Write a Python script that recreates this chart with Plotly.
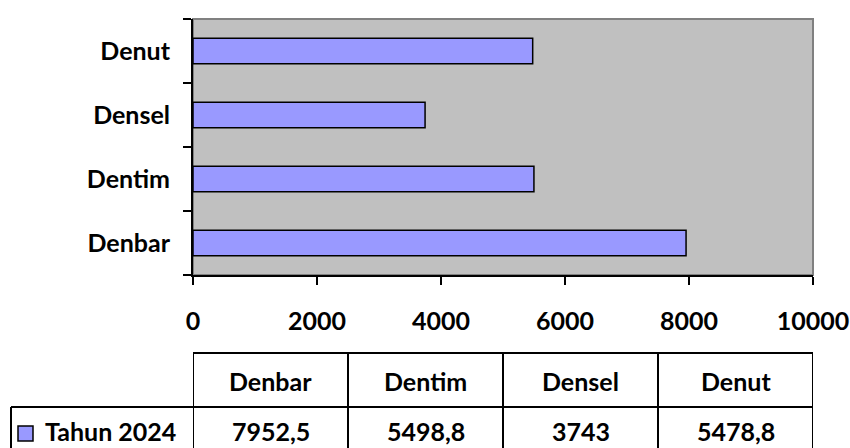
import plotly.graph_objects as go

categories = ["Denbar", "Dentim", "Densel", "Denut"]
values_2024 = [7952.5, 5498.8, 3743, 5478.8]
series_name = "Tahun 2024"
x_ticks = [0, 2000, 4000, 6000, 8000, 10000]

W, H = 850, 448
OFF = 0
FONT = dict(family="Lato, 'Open Sans', sans-serif", size=25, color="#000000", weight="bold")
BAR_COLOR = "#9999FF"


def fmt(v):
    if float(v).is_integer():
        return str(int(v))
    return str(v).replace(".", ",")


def px(x):
    return (x - OFF) / W


def py(y):
    return 1 - (y - OFF) / H


fig = go.Figure()
fig.add_trace(go.Bar(
    x=values_2024, y=categories, orientation="h", name=series_name,
    width=0.4,
    marker=dict(color=BAR_COLOR, line=dict(color="#000000", width=1.5)),
    showlegend=False, hoverinfo="x+y",
))

fig.update_layout(
    width=W, height=H, autosize=False,
    margin=dict(l=0, r=0, t=0, b=0, pad=0),
    paper_bgcolor="white", plot_bgcolor="#C0C0C0",
    font=FONT,
    xaxis=dict(
        domain=[px(193), px(813)], range=[0, 10000], automargin=False,
        tickvals=x_ticks, ticktext=[str(t) for t in x_ticks],
        ticks="outside", ticklen=8, tickwidth=2, tickcolor="#000000",
        showline=True, linecolor="#000000", linewidth=2,
        showgrid=False, zeroline=False, ticklabelstandoff=15,
        tickfont=FONT, fixedrange=True,
    ),
    yaxis=dict(
        domain=[py(275), py(19)], range=[-0.5, 3.5], automargin=False,
        type="category", categoryorder="array", categoryarray=categories,
        ticks="outside", ticklen=8, tickwidth=2, tickcolor="#000000",
        tickson="boundaries",
        showline=True, linecolor="#000000", linewidth=2,
        showgrid=False, zeroline=False, ticklabelstandoff=16,
        tickfont=FONT, fixedrange=True,
    ),
)

shapes = []
# plot area border (top / right in gray)
shapes.append(dict(type="rect", xref="x domain", yref="y domain", x0=0, x1=1, y0=0, y1=1,
                   line=dict(color="#808080", width=2), fillcolor="rgba(0,0,0,0)", layer="below"))

# data table beneath the chart
LINE = dict(color="#000000", width=2)
y_top, y_mid, y_bot = py(353), py(407), py(470)
n = len(categories)
bounds = [i * 10000 / n for i in range(n + 1)]
shapes.append(dict(type="line", xref="x", yref="paper", x0=0, x1=10000, y0=y_top, y1=y_top, line=LINE))
shapes.append(dict(type="line", xref="paper", yref="paper", x0=px(11), x1=px(813), y0=y_mid, y1=y_mid, line=LINE))
for b in bounds:
    shapes.append(dict(type="line", xref="x", yref="paper", x0=b, x1=b, y0=y_top, y1=y_bot, line=LINE))
shapes.append(dict(type="line", xref="paper", yref="paper", x0=px(11), x1=px(11), y0=y_mid, y1=y_bot, line=LINE))
# legend key
shapes.append(dict(type="rect", xref="paper", yref="paper", x0=px(18), x1=px(33), y0=py(441), y1=py(426),
                   fillcolor=BAR_COLOR, line=dict(color="#000000", width=1.5)))

annotations = []
for i, (c, v) in enumerate(zip(categories, values_2024)):
    xc = (bounds[i] + bounds[i + 1]) / 2
    annotations.append(dict(text=c, xref="x", yref="paper", x=xc, y=py(381), showarrow=False,
                            xanchor="center", yanchor="middle", font=FONT))
    annotations.append(dict(text=fmt(v), xref="x", yref="paper", x=xc, y=py(431), showarrow=False,
                            xanchor="center", yanchor="middle", font=FONT))
annotations.append(dict(text=series_name, xref="paper", yref="paper", x=px(43), y=py(431), showarrow=False,
                        xanchor="left", yanchor="middle", font=FONT))

fig.update_layout(shapes=shapes, annotations=annotations)
fig.write_html(
    "out.html",
    config={"displayModeBar": False},
    post_script="document.body.style.margin='0';document.body.style.overflow='hidden';",
)
